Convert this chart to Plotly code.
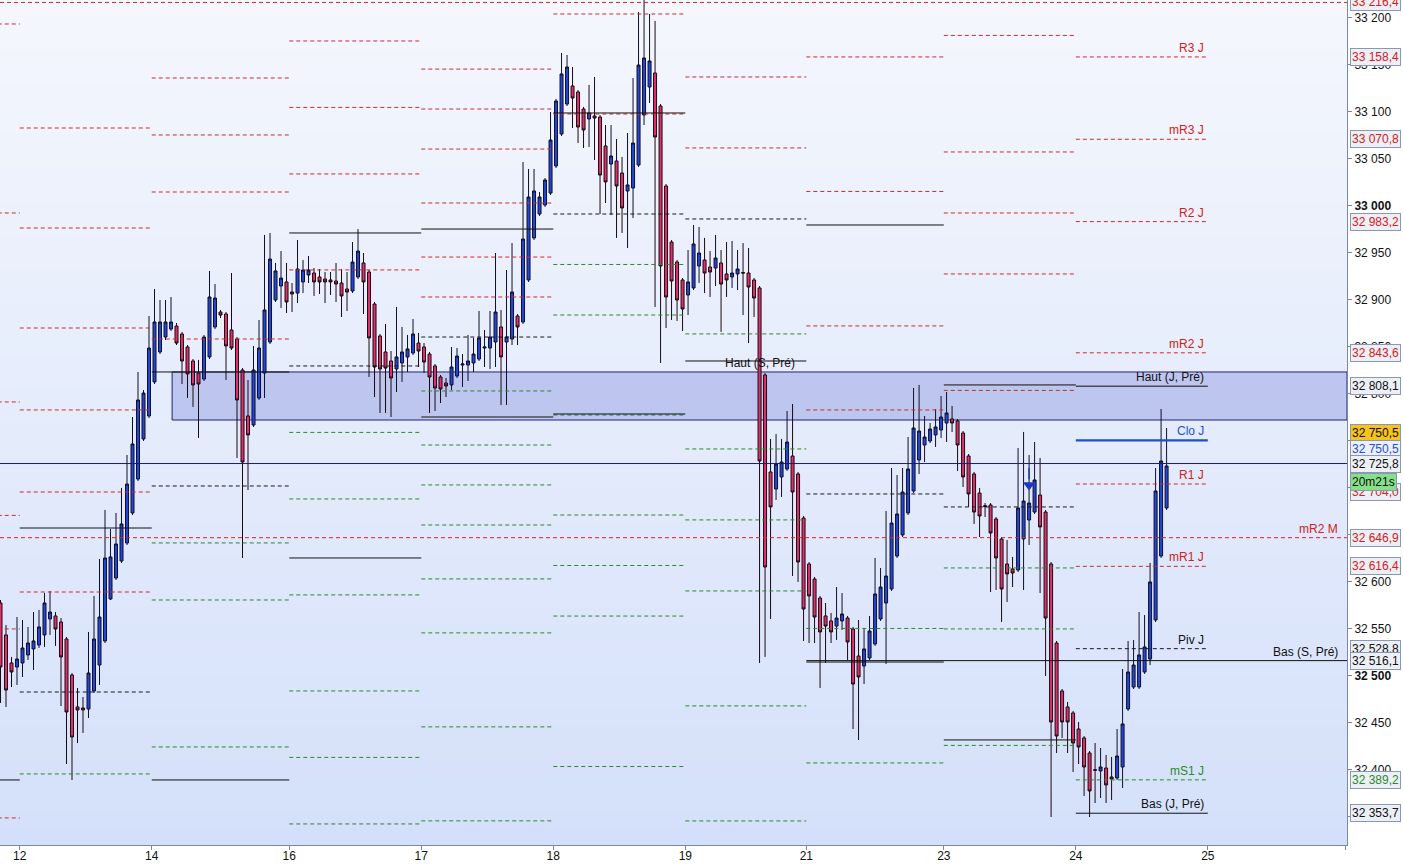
import plotly.graph_objects as go

# ---------------- candle data (hourly bars) ----------------
opens = [32577.4, 32543.4, 32513.6, 32509.3, 32513.6, 32522.1, 32528.5, 32532.7, 32543.4, 32560.4,
         32563.6, 32557.2, 32539.1, 32500.8, 32466.8, 32465.7, 32464.6, 32483.8, 32511.4, 32537.0,
         32581.7, 32604.0, 32622.1, 32641.2, 32673.2, 32709.3, 32751.9, 32776.4, 32812.6, 32844.5,
         32860.4, 32868.9, 32872.1, 32863.6, 32849.8, 32834.9, 32822.1, 32815.7, 32839.2, 32871.1,
         32887.0, 32884.9, 32867.9, 32858.3, 32825.3, 32776.4, 32766.8, 32795.5, 32822.1, 32855.1,
         32899.8, 32914.7, 32919.0, 32908.3, 32907.2, 32919.0, 32926.4, 32928.5, 32924.3, 32922.1,
         32921.1, 32920.0, 32917.9, 32911.5, 32909.4, 32924.3, 32939.2, 32929.6, 32895.5, 32861.5,
         32844.5, 32834.9, 32826.4, 32832.8, 32839.2, 32843.4, 32854.0, 32849.8, 32842.3, 32829.6,
         32817.9, 32811.5, 32809.4, 32818.9, 32830.6, 32830.6, 32832.8, 32837.0, 32848.7, 32848.7,
         32855.1, 32871.1, 32855.1, 32858.3, 32882.8, 32876.4, 32921.1, 32965.8, 32991.3, 33000.9,
         33013.6, 33042.4, 33076.4, 33108.3, 33127.5, 33121.1, 33103.0, 33092.4, 33095.6, 33094.5,
         33063.7, 33044.5, 33047.7, 33034.9, 33015.8, 33019.0, 33043.4, 33096.6, 33126.4, 33141.3,
         33106.2, 33021.1, 32961.5, 32940.2, 32921.1, 32905.1, 32912.6, 32936.0, 32942.4, 32934.9,
         32933.8, 32939.2, 32927.5, 32924.3, 32927.5, 32929.0, 32928.5, 32921.1, 32912.6, 32820.0,
         32716.8, 32698.7, 32711.5, 32720.0, 32733.8, 32714.7, 32667.8, 32618.9, 32602.9, 32582.7,
         32563.6, 32558.3, 32552.9, 32558.3, 32561.4, 32549.7, 32521.0, 32510.4, 32518.9, 32533.8,
         32560.4, 32577.4, 32592.3, 32627.4, 32649.8, 32673.2, 32696.6, 32729.6, 32745.5, 32749.8,
         32756.2, 32761.5, 32768.9, 32773.2, 32771.1, 32758.3, 32733.8, 32714.7, 32694.4, 32681.0,
         32681.7, 32666.8, 32645.5, 32618.9, 32613.6, 32612.5, 32645.5, 32665.7, 32674.2, 32692.3,
         32674.2, 32618.9, 32534.8, 32483.8, 32466.8, 32460.4, 32443.3, 32433.8, 32417.8, 32400.0,
         32398.7, 32401.8, 32392.3, 32391.2, 32402.9, 32464.6, 32488.0, 32488.0, 32504.0, 32517.8,
         32559.3, 32627.4, 32678.5]
highs = [32580.6, 32554.0, 32520.0, 32562.5, 32559.3, 32551.9, 32567.8, 32570.0, 32588.0, 32590.2,
         32567.8, 32561.4, 32541.2, 32502.9, 32487.0, 32477.4, 32546.6, 32584.9, 32624.2, 32676.4,
         32656.1, 32673.2, 32699.8, 32734.9, 32775.3, 32823.2, 32804.0, 32882.8, 32911.5, 32899.8,
         32899.8, 32903.0, 32875.3, 32865.8, 32851.9, 32837.0, 32836.0, 32862.6, 32930.7, 32916.8,
         32889.2, 32887.0, 32928.5, 32860.4, 32827.4, 32814.7, 32850.9, 32878.5, 32969.0, 32971.1,
         32939.2, 32951.9, 32939.2, 32917.9, 32963.6, 32942.4, 32946.6, 32933.8, 32932.8, 32929.6,
         32929.6, 32939.2, 32932.8, 32929.6, 32961.5, 32975.3, 32949.8, 32931.7, 32897.7, 32863.6,
         32874.3, 32845.5, 32892.4, 32871.1, 32862.6, 32879.6, 32864.7, 32854.0, 32844.5, 32831.7,
         32820.0, 32816.8, 32849.8, 32848.7, 32842.3, 32862.6, 32859.4, 32888.1, 32867.9, 32888.1,
         32949.8, 32889.2, 32931.7, 32960.4, 32884.9, 33046.6, 33039.2, 33039.2, 33014.7, 33029.6,
         33099.8, 33113.7, 33162.6, 33160.5, 33147.7, 33123.2, 33105.2, 33128.6, 33137.1, 33096.6,
         33086.0, 33086.0, 33071.1, 33052.0, 33077.5, 33136.0, 33206.2, 33225.0, 33204.1, 33196.7,
         33108.3, 33023.2, 32963.6, 32942.4, 32923.2, 32953.0, 32979.6, 32977.5, 32965.8, 32951.9,
         32969.0, 32953.0, 32961.5, 32962.6, 32953.0, 32960.4, 32955.1, 32923.2, 32914.7, 32822.1,
         32751.9, 32757.2, 32751.9, 32781.7, 32789.1, 32716.8, 32670.0, 32621.0, 32605.1, 32584.9,
         32577.4, 32566.8, 32594.4, 32588.0, 32563.6, 32551.9, 32559.3, 32549.7, 32563.6, 32625.3,
         32614.6, 32675.3, 32721.0, 32713.6, 32721.0, 32754.0, 32806.2, 32809.4, 32776.4, 32768.9,
         32783.8, 32797.7, 32801.9, 32787.0, 32773.2, 32760.4, 32735.9, 32716.8, 32699.8, 32683.8,
         32683.8, 32668.9, 32647.6, 32644.4, 32626.4, 32742.3, 32759.4, 32734.9, 32748.7, 32731.7,
         32676.4, 32621.0, 32537.0, 32485.9, 32472.1, 32462.5, 32450.8, 32435.9, 32419.9, 32428.4,
         32423.1, 32415.7, 32413.6, 32443.3, 32507.2, 32537.0, 32538.0, 32567.8, 32564.6, 32620.0,
         32721.0, 32783.8, 32763.6]
lows = [32471.0, 32466.8, 32488.0, 32490.2, 32498.7, 32516.8, 32506.1, 32529.5, 32530.6, 32543.4,
        32531.7, 32467.8, 32406.1, 32389.1, 32428.4, 32439.1, 32455.0, 32481.6, 32490.2, 32534.8,
        32580.6, 32601.9, 32620.0, 32639.1, 32671.0, 32707.2, 32749.8, 32774.2, 32810.4, 32842.3,
        32857.2, 32866.8, 32851.9, 32810.4, 32795.5, 32786.0, 32753.0, 32813.6, 32837.0, 32868.9,
        32880.6, 32814.7, 32846.6, 32731.7, 32625.3, 32697.6, 32764.7, 32793.4, 32795.5, 32853.0,
        32897.7, 32891.3, 32886.0, 32887.0, 32896.6, 32907.2, 32917.9, 32904.1, 32906.2, 32896.6,
        32905.1, 32897.7, 32881.7, 32888.1, 32907.2, 32922.1, 32884.9, 32817.9, 32796.6, 32779.6,
        32779.6, 32775.3, 32801.9, 32812.6, 32823.2, 32841.3, 32828.5, 32822.1, 32779.6, 32781.7,
        32790.2, 32796.6, 32804.0, 32816.8, 32807.2, 32813.6, 32823.2, 32834.9, 32828.5, 32826.4,
        32828.5, 32788.1, 32788.1, 32851.9, 32851.9, 32874.3, 32919.0, 32963.6, 32989.2, 32998.8,
        33011.5, 33040.2, 33074.3, 33106.2, 33082.8, 33066.8, 33061.5, 33062.6, 33048.8, 32991.3,
        33003.0, 32990.2, 32965.8, 32971.1, 32955.1, 32987.0, 33041.3, 33086.0, 33109.4, 32892.4,
        32832.8, 32870.0, 32878.5, 32877.5, 32866.8, 32883.8, 32910.4, 32917.9, 32907.2, 32903.0,
        32914.7, 32865.8, 32903.0, 32912.6, 32910.4, 32883.8, 32854.0, 32881.7, 32513.6, 32520.0,
        32560.4, 32687.0, 32690.2, 32717.9, 32606.1, 32599.8, 32537.0, 32534.8, 32534.8, 32487.0,
        32513.6, 32534.8, 32538.0, 32548.7, 32516.8, 32443.3, 32431.6, 32491.2, 32516.8, 32531.7,
        32558.3, 32512.5, 32590.2, 32625.3, 32647.6, 32671.0, 32694.4, 32714.7, 32727.4, 32747.6,
        32743.4, 32753.0, 32748.7, 32759.4, 32717.9, 32700.8, 32679.6, 32661.5, 32647.6, 32668.9,
        32589.1, 32591.2, 32557.2, 32578.5, 32594.4, 32610.4, 32591.2, 32639.1, 32672.1, 32588.0,
        32499.7, 32349.7, 32417.8, 32433.8, 32417.8, 32397.6, 32406.1, 32372.1, 32349.7, 32364.6,
        32369.9, 32364.6, 32367.8, 32389.1, 32380.6, 32462.5, 32485.9, 32485.9, 32501.9, 32511.4,
        32557.2, 32625.3, 32676.4]
closes = [32509.3, 32484.8, 32504.0, 32517.8, 32529.5, 32534.8, 32537.0, 32551.9, 32577.4, 32567.8,
          32549.7, 32520.0, 32461.4, 32434.8, 32463.6, 32463.6, 32502.9, 32539.1, 32562.5, 32625.3,
          32626.4, 32640.2, 32661.5, 32704.0, 32746.6, 32793.4, 32800.8, 32848.7, 32876.4, 32876.4,
          32876.4, 32876.4, 32854.0, 32834.9, 32821.1, 32809.4, 32810.4, 32860.4, 32903.0, 32901.9,
          32883.8, 32850.9, 32848.7, 32793.4, 32727.4, 32756.2, 32825.3, 32848.7, 32889.2, 32943.4,
          32930.7, 32923.2, 32897.7, 32906.2, 32932.8, 32931.7, 32931.7, 32919.0, 32919.0, 32919.0,
          32919.0, 32916.8, 32904.1, 32908.3, 32940.2, 32951.9, 32919.0, 32859.4, 32828.5, 32826.4,
          32827.4, 32816.8, 32839.2, 32844.5, 32847.7, 32863.6, 32845.5, 32833.8, 32817.9, 32806.2,
          32805.1, 32808.3, 32828.5, 32840.2, 32831.7, 32834.9, 32842.3, 32859.4, 32849.8, 32860.4,
          32887.0, 32839.2, 32860.4, 32908.3, 32871.1, 32964.7, 33009.4, 33015.8, 33009.4, 33027.5,
          33070.0, 33111.5, 33140.3, 33147.7, 33114.7, 33083.9, 33080.7, 33098.8, 33093.4, 33032.8,
          33025.4, 33053.0, 33021.1, 32997.7, 33022.2, 33066.8, 33149.8, 33157.3, 33154.1, 33073.2,
          32936.0, 32903.0, 32920.0, 32899.8, 32890.2, 32919.0, 32959.4, 32949.8, 32928.5, 32929.6,
          32944.5, 32916.8, 32921.1, 32928.5, 32932.8, 32928.5, 32913.6, 32901.9, 32728.5, 32615.7,
          32679.6, 32725.3, 32727.4, 32748.7, 32695.5, 32621.0, 32571.0, 32584.9, 32562.5, 32546.6,
          32552.9, 32546.6, 32561.4, 32565.7, 32535.9, 32491.2, 32498.7, 32528.5, 32547.6, 32587.0,
          32594.4, 32606.1, 32662.5, 32672.1, 32695.5, 32720.0, 32763.6, 32760.4, 32754.0, 32762.5,
          32764.7, 32775.3, 32779.6, 32768.9, 32745.5, 32711.5, 32693.4, 32674.2, 32670.0, 32680.0,
          32651.9, 32625.3, 32592.3, 32608.3, 32609.3, 32678.5, 32685.9, 32683.8, 32708.3, 32658.3,
          32561.4, 32450.8, 32435.9, 32450.8, 32450.8, 32428.4, 32424.2, 32402.9, 32377.4, 32399.5,
          32402.9, 32383.8, 32390.1, 32414.6, 32448.7, 32504.0, 32511.4, 32522.1, 32530.6, 32599.8,
          32696.6, 32728.5, 32723.2]

# ---------------- day sessions & x-axis ----------------
day_edges = [-0.5, 3.5, 27.5, 52.5, 76.5, 100.5, 124.5, 146.5, 171.5, 195.5, 219.5]
tick_pos = [3.5, 27.5, 52.5, 76.5, 100.5, 124.5, 146.5, 171.5, 195.5, 219.5, 244.5]
tick_text = ["12", "14", "16", "17", "18", "19", "21", "23", "24", "25", ""]

# ---------------- daily pivot levels (one value per session) ----------------
lvl_R3 = [33193.5, 33082.8, None, None, 33145.5, None, None, None, None, 33158.4]
lvl_mR3 = [32992.4, 32976.4, None, None, 33103.0, None, None, None, 33181.3, 33070.8]
lvl_R2 = [32791.3, 32870.0, 33136.0, 33175.4, 33060.4, None, None, 33158.4, 33057.3, 32983.2]
lvl_mR2 = [32670.6, 32782.8, 33075.4, 33104.7, 33003.0, None, None, 33015.3, 32992.4, 32843.6]
lvl_R1 = [32549.8, 32695.5, 33014.7, 33033.9, 32945.5, 33204.1, 33137.1, 32872.2, 32927.5, 32704.0]
lvl_mR1 = [32348.7, 32589.1, 32858.3, 32931.8, 32903.0, 33097.7, 33061.6, 32782.8, 32803.6, 32616.4]
lvl_P = [None, 32482.7, 32701.9, 32829.6, 32860.4, 32991.3, 32986.0, 32693.4, 32679.6, 32528.8]
lvl_mS1 = [None, 32395.5, 32641.3, 32758.9, 32803.0, 32937.6, 32863.7, 32550.3, 32614.7, 32389.2]
lvl_S1 = [None, None, 32580.6, 32688.1, 32745.5, 32883.8, 32741.3, 32407.2, 32549.8, None]
lvl_mS2 = [None, None, 32424.2, 32586.0, 32703.0, 32777.4, 32665.8, None, 32425.9, None]
lvl_S2 = [None, None, None, 32483.8, 32660.4, 32671.0, 32590.2, None, None, None]
lvl_mS3 = [None, None, None, 32413.1, 32603.0, 32617.3, 32467.9, None, None, None]
lvl_S3 = [None, None, None, 32342.3, 32545.6, 32563.5, 32345.5, None, None, None]
lvl_mS4 = [None, None, None, None, 32445.6, 32403.4, None, None, None, None]
lvl_S4 = [None, None, None, None, 32345.6, None, None, None, None, None]
prev_high = [32389.1, 32657.2, 32823.2, 32971.1, 32975.3, 33098.8, None, 32979.6, 32809.4, 32808.1]
prev_low = [None, None, 32389.1, 32625.3, 32775.3, 32778.5, 32834.9, 32514.6, 32431.7, 32353.7]
close_today = 32750.5

# ---------------- other levels ----------------
top_level = 33216.4
navy_level = 32725.8
monthly_mr2 = 32646.9
week_low = 32516.1
week_low_start = 146.5
zone_low, zone_high = 32772.1, 32823.2
zone_start = 31.2
signal_x, signal_y = 187, 32703.0

price_labels = [
    (33216.4, "33 216,4", "#d42020", "#eceff6", 0),
    (33158.4, "33 158,4", "#d42020", "#eceff6", 0),
    (33070.8, "33 070,8", "#d42020", "#eceff6", 0),
    (32983.2, "32 983,2", "#d42020", "#eceff6", 0),
    (32843.6, "32 843,6", "#d42020", "#eceff6", 0),
    (32808.1, "32 808,1", "#111111", "#eceff6", 0),
    (32750.5, "32 750,5", "#111111", "#f6c21c", 7),
    (32750.5, "32 750,5", "#2350d8", "#eceff6", -9),
    (32725.8, "32 725,8", "#111111", "#eceff6", 0),
    (32704.0, "32 704,0", "#d42020", "#eceff6", -8),
    (32704.0, "20m21s", "#111111", "#86e08a", 2),
    (32646.9, "32 646,9", "#d42020", "#eceff6", 0),
    (32616.4, "32 616,4", "#d42020", "#eceff6", 0),
    (32528.8, "32 528,8", "#111111", "#eceff6", 0),
    (32516.1, "32 516,1", "#111111", "#eceff6", 0),
    (32389.2, "32 389,2", "#2a8a2a", "#eceff6", 0),
    (32353.7, "32 353,7", "#111111", "#eceff6", 0),
]

level_names = [
    (33158.4, "R3 J", "#d42020"), (33070.8, "mR3 J", "#d42020"), (32983.2, "R2 J", "#d42020"),
    (32843.6, "mR2 J", "#d42020"), (32808.1, "Haut (J, Pré)", "#111111"), (32750.5, "Clo J", "#2350d8"),
    (32704.0, "R1 J", "#d42020"), (32616.4, "mR1 J", "#d42020"), (32528.8, "Piv J", "#111111"),
    (32389.2, "mS1 J", "#2a8a2a"), (32353.7, "Bas (J, Pré)", "#111111"),
]

y_ticks = list(range(32350, 33201, 50))

FONT = "Liberation Sans, Arial, sans-serif"
XMAX = 244.8
YMIN, YMAX = 32319.9, 33219.0

fig = go.Figure()


def seg_trace(level_lists, color, dash, width=1.0):
    xs, ys = [], []
    for lv in level_lists:
        for d, v in enumerate(lv):
            if v is None:
                continue
            xs += [day_edges[d], day_edges[d + 1], None]
            ys += [v, v, None]
    return go.Scatter(x=xs, y=ys, mode="lines", hoverinfo="skip", showlegend=False,
                      line=dict(color=color, dash=dash, width=width))


# candles
fig.add_trace(go.Candlestick(
    x=list(range(len(opens))), open=opens, high=highs, low=lows, close=closes,
    increasing=dict(fillcolor="#2446d4", line=dict(color="#10102a", width=1)),
    decreasing=dict(fillcolor="#e0306c", line=dict(color="#1c0a12", width=1)),
    whiskerwidth=0, hoverinfo="skip", showlegend=False))

# daily levels
fig.add_trace(seg_trace([lvl_R3, lvl_mR3, lvl_R2, lvl_mR2, lvl_R1, lvl_mR1], "#cf2a2a", "4px,3px"))
fig.add_trace(seg_trace([lvl_mS1, lvl_S1, lvl_mS2, lvl_S2, lvl_mS3, lvl_S3, lvl_mS4, lvl_S4],
                        "#2a8a2a", "4px,3px"))
fig.add_trace(seg_trace([lvl_P], "#1a1a1a", "4px,3px"))
fig.add_trace(seg_trace([prev_high, prev_low], "#111111", "solid"))

# today's close
fig.add_trace(go.Scatter(x=[day_edges[-2], day_edges[-1]], y=[close_today, close_today], mode="lines",
                         line=dict(color="#1f4fd0", width=2.2), hoverinfo="skip", showlegend=False))
# signal arrow
fig.add_trace(go.Scatter(x=[signal_x, signal_x], y=[signal_y + 18, signal_y + 6], mode="lines",
                         line=dict(color="#2038c0", width=1.5), hoverinfo="skip", showlegend=False))
fig.add_trace(go.Scatter(x=[signal_x], y=[signal_y], mode="markers",
                         marker=dict(symbol="triangle-down", size=11, color="#2038c0"),
                         hoverinfo="skip", showlegend=False))

shapes = []
# gradient background
top_c = (245, 247, 253)
bot_c = (212, 224, 250)
NB = 50
for k in range(NB):
    t = (k + 0.5) / NB
    c = tuple(int(round(top_c[j] + (bot_c[j] - top_c[j]) * t)) for j in range(3))
    shapes.append(dict(type="rect", xref="paper", yref="paper", x0=0, x1=1,
                       y0=1 - (k + 1) / NB, y1=1 - k / NB + 0.001, layer="below",
                       line=dict(width=0), fillcolor="rgb(%d,%d,%d)" % c))
# zone
shapes.append(dict(type="rect", xref="x", yref="y", x0=zone_start, x1=XMAX, y0=zone_low, y1=zone_high,
                   layer="below", fillcolor="rgba(150,160,225,0.5)",
                   line=dict(color="#20207a", width=1)))
# full-width lines
shapes.append(dict(type="line", xref="paper", yref="y", x0=0, x1=1, y0=top_level, y1=top_level,
                   line=dict(color="#cf2a2a", width=1, dash="4px,3px")))
shapes.append(dict(type="line", xref="paper", yref="y", x0=0, x1=1, y0=navy_level, y1=navy_level,
                   line=dict(color="#1a1a80", width=1)))
shapes.append(dict(type="line", xref="paper", yref="y", x0=0, x1=1, y0=monthly_mr2, y1=monthly_mr2,
                   line=dict(color="#cf2a2a", width=1, dash="4px,3px")))
shapes.append(dict(type="line", xref="x", yref="y", x0=week_low_start, x1=XMAX, y0=week_low, y1=week_low,
                   line=dict(color="#111111", width=1)))

annotations = []
for v, txt, col, bg, ys in price_labels:
    annotations.append(dict(x=1, xref="paper", y=v, yref="y", text=txt, showarrow=False,
                            xanchor="left", yanchor="middle", xshift=3, yshift=ys,
                            font=dict(family=FONT, size=12, color=col), bgcolor=bg,
                            bordercolor="#8a98b4", borderwidth=1, borderpad=1))
for v, txt, col in level_names:
    annotations.append(dict(x=219.2, xref="x", y=v, yref="y", text=txt, showarrow=False,
                            xanchor="right", yanchor="bottom", yshift=0,
                            font=dict(family=FONT, size=12, color=col)))
annotations.append(dict(x=144.8, xref="x", y=prev_low[6], yref="y", text="Haut (S, Pré)", showarrow=False,
                        xanchor="right", yanchor="middle", yshift=-2,
                        font=dict(family=FONT, size=12, color="#111111")))
annotations.append(dict(x=243.6, xref="x", y=week_low, yref="y", text="Bas (S, Pré)", showarrow=False,
                        xanchor="right", yanchor="bottom",
                        font=dict(family=FONT, size=12, color="#111111")))
annotations.append(dict(x=243.6, xref="x", y=monthly_mr2, yref="y", text="mR2 M", showarrow=False,
                        xanchor="right", yanchor="bottom",
                        font=dict(family=FONT, size=12, color="#d42020")))

tick_labels = []
for v in y_ticks:
    s = "{:,}".format(v).replace(",", " ")
    if v % 500 == 0:
        s = "<b>" + s + "</b>"
    tick_labels.append(s)

fig.update_layout(
    template="none",
    width=1403, height=864,
    margin=dict(l=0, r=56, t=0, b=19, pad=0),
    paper_bgcolor="white", plot_bgcolor="#e6ecfb",
    showlegend=False,
    boxgap=0.22,
    shapes=shapes, annotations=annotations,
    font=dict(family=FONT, size=12, color="#111111"),
    xaxis=dict(range=[-0.09, XMAX], tickvals=tick_pos, ticktext=tick_text, ticks="outside",
               ticklen=4, tickcolor="#7a8aa6", showline=True, linecolor="#7a8aa6", linewidth=1,
               showgrid=False, zeroline=False, rangeslider=dict(visible=False), automargin=False,
               ticklabelstandoff=-4,
               tickfont=dict(family=FONT, size=12, color="#111111")),
    yaxis=dict(range=[YMIN, YMAX], side="right", tickvals=y_ticks, ticktext=tick_labels,
               ticks="outside", ticklen=4, tickcolor="#7a8aa6", showline=True, linecolor="#7a8aa6",
               linewidth=1, showgrid=False, zeroline=False, automargin=False,
               tickfont=dict(family=FONT, size=12, color="#111111")),
)

fig.write_html("out.html", config={"displayModeBar": False},
               post_script="document.body.style.margin='0';")
